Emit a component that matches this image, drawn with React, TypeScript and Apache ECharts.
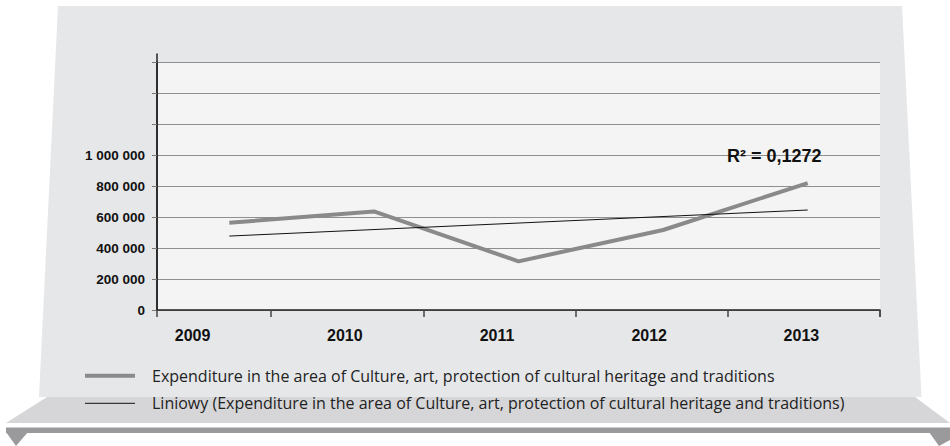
import React, { useEffect, useRef } from "react";
import * as echarts from "echarts";

const years = ["2009", "2010", "2011", "2012", "2013"];
const expenditure = [563000, 636000, 314000, 516000, 819000];
const trendLine = [477000, null, null, null, 645000];
const yMax = 1600000;
const yStep = 200000;
const yLabelMax = 1000000;
const seriesName = "Expenditure in the area of Culture, art, protection of cultural heritage and traditions";
const trendName = "Liniowy (Expenditure in the area of Culture, art, protection of cultural heritage and traditions)";
const rSquaredLabel = "R² = 0,1272";

const fmt = (v: number) => String(v).replace(/\B(?=(\d{3})+(?!\d))/g, " ");

export default function App() {
  const ref = useRef<HTMLDivElement>(null);
  useEffect(() => {
    if (!ref.current) return;
    const chart = echarts.init(ref.current, null, { renderer: "svg" });
    const axisColor = "#222";
    chart.setOption({
      animation: false,
      backgroundColor: "#ffffff",
      textStyle: { fontFamily: "Liberation Sans" },
      graphic: [
        { type: "polygon", z: -10, silent: true, shape: { points: [[47, 397], [915, 397], [950, 423], [6, 423]] }, style: { fill: "#d6d6d8" } },
        { type: "polygon", z: -9, silent: true, shape: { points: [[58, 6], [902, 6], [921.5, 397], [39, 397]] }, style: { fill: "#e6e7e9" } },
        { type: "rect", z: -9, silent: true, shape: { x: 6, y: 427.5, width: 944, height: 5.5 }, style: { fill: "#9a9a9c" } },
        { type: "polygon", z: -9, silent: true, shape: { points: [[6, 432], [28, 432], [16, 446]] }, style: { fill: "#9a9a9c" } },
        { type: "polygon", z: -9, silent: true, shape: { points: [[929, 432], [950, 432], [950, 440], [939, 446]] }, style: { fill: "#9a9a9c" } },
        {
          type: "text",
          z: 50,
          x: 727,
          y: 156,
          style: {
            text: rSquaredLabel,
            font: "bold 18px 'Liberation Sans'",
            fill: "#111",
            verticalAlign: "middle",
          },
        },
      ],
      grid: [
        { left: 157, right: 70, top: 62, bottom: 136, show: true, backgroundColor: "#f3f4f3", borderWidth: 0 },
        { left: 119, right: 70, top: 62, bottom: 136 },
        { left: 157, right: 70, top: 54, bottom: 136 },
      ],
      xAxis: [
        {
          gridIndex: 0,
          type: "category",
          data: years,
          boundaryGap: true,
          axisLine: { show: true, lineStyle: { color: axisColor, width: 1.5 } },
          axisTick: { show: true, interval: (i: number) => i === 0, length: 7, lineStyle: { color: "#444", width: 1.5 } },
          axisLabel: { show: false },
          splitLine: { show: false },
        },
        {
          gridIndex: 1,
          type: "category",
          data: years,
          boundaryGap: true,
          axisLine: { show: false },
          axisTick: { show: true, interval: (i: number) => i !== 0, length: 7, lineStyle: { color: "#444", width: 1.5 } },
          axisLabel: { show: true, fontSize: 16, fontWeight: "bold", color: "#111", margin: 17, padding: [0, 5, 0, 0] },
          splitLine: { show: false },
        },
        { gridIndex: 2, type: "category", data: years, show: false },
      ],
      yAxis: [
        {
          gridIndex: 0,
          type: "value",
          min: 0,
          max: yMax,
          interval: yStep,
          axisLine: { show: true, lineStyle: { color: axisColor, width: 1.5 } },
          axisTick: { show: true, length: 5, lineStyle: { color: "#777" } },
          axisLabel: {
            fontSize: 13.5,
            fontWeight: "bold",
            color: "#111",
            margin: 12,
            formatter: (v: number) => (v > yLabelMax ? "" : fmt(v)),
          },
          splitLine: { show: true, lineStyle: { color: "#8f8f8f", width: 1 } },
        },
        { gridIndex: 1, type: "value", min: 0, max: yMax, show: false },
        {
          gridIndex: 2,
          type: "value",
          min: 0,
          max: yMax,
          axisLine: { show: true, lineStyle: { color: axisColor, width: 1.5 } },
          axisTick: { show: false },
          axisLabel: { show: false },
          splitLine: { show: false },
        },
      ],
      legend: {
        orient: "vertical",
        left: 83,
        top: 367.7,
        padding: 0,
        itemWidth: 50,
        itemHeight: 16,
        itemGap: 11.6,
        itemStyle: { opacity: 0 },
        lineStyle: { width: "inherit" },
        data: [{ name: seriesName }, { name: trendName }],
        textStyle: { fontFamily: "Open Sans", fontSize: 16, lineHeight: 16, color: "#222", padding: [0, 0, 0, 12] },
      },
      series: [
        {
          name: seriesName,
          type: "line",
          xAxisIndex: 0,
          yAxisIndex: 0,
          data: expenditure,
          symbol: "none",
          lineStyle: { color: "#8a8a8a", width: 4 },
          itemStyle: { color: "#8a8a8a" },
          z: 3,
        },
        {
          name: trendName,
          type: "line",
          xAxisIndex: 0,
          yAxisIndex: 0,
          data: trendLine,
          connectNulls: true,
          symbol: "none",
          lineStyle: { color: "#111", width: 1 },
          itemStyle: { color: "#111" },
          z: 4,
        },
      ],
    });
    return () => chart.dispose();
  }, []);
  return (
    <div
      ref={ref}
      style={{ position: "fixed", left: 0, top: 0, width: 950, height: 446 }}
    />
  );
}
